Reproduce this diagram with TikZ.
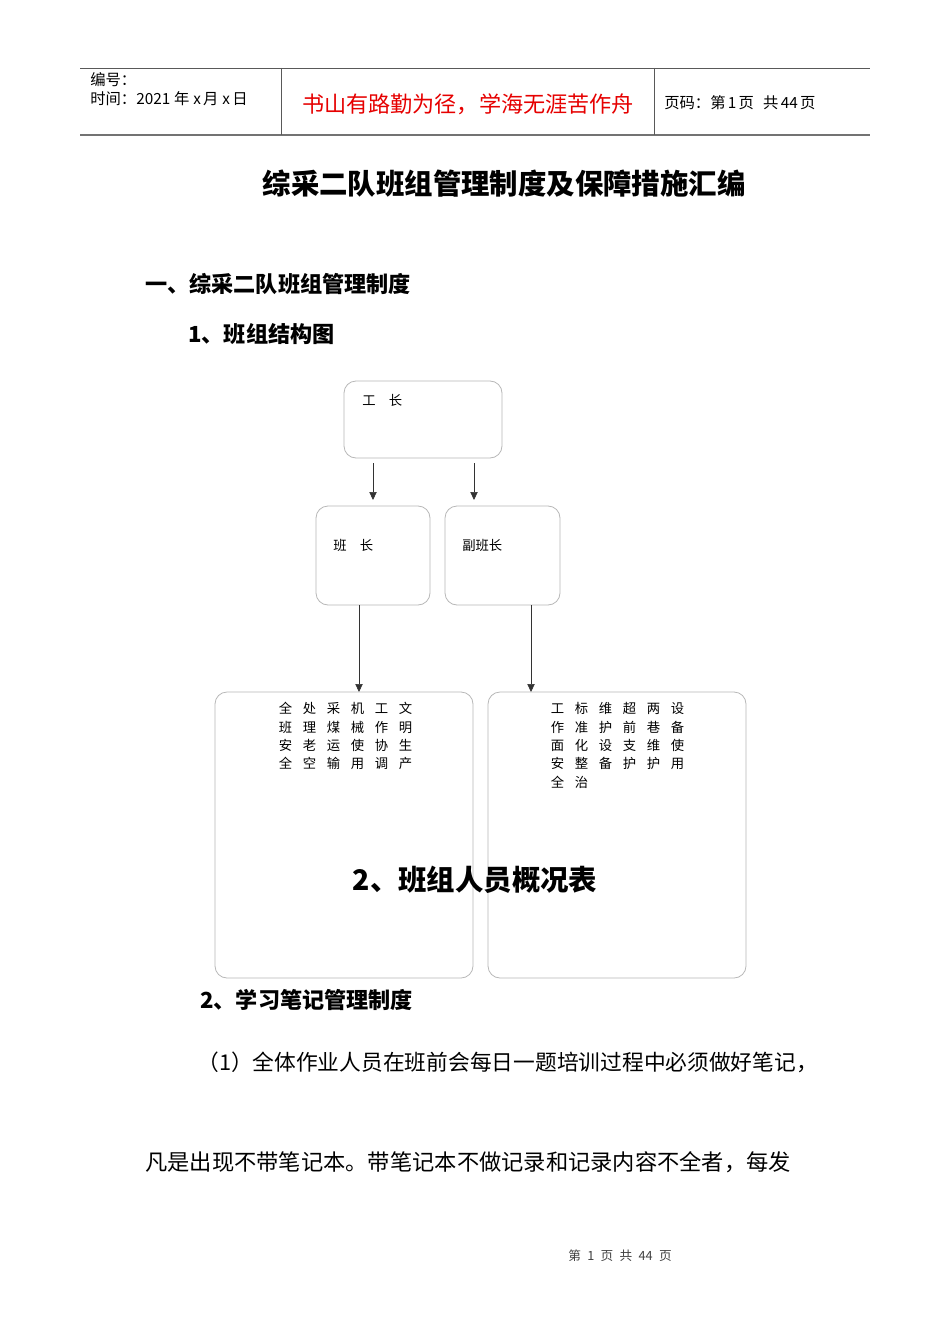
\documentclass[tikz,border=0pt]{standalone}
\usepackage{fontspec}
\setmainfont{Noto Sans CJK SC}
\usetikzlibrary{arrows.meta,calc}
\definecolor{motto}{RGB}{230,0,0}
\newcommand\gapx{\hspace{8pt}}
\begin{document}
\begin{tikzpicture}[x=0.75pt,y=-0.75pt,
  box/.style={draw=black!28,line width=0.6pt,rounded corners=9pt,inner sep=0pt,outer sep=0pt},
  lbl/.style={anchor=west,inner sep=0pt,font=\fontsize{10}{12}\selectfont},
  grid/.style={anchor=west,inner sep=0pt,font=\fontsize{10}{12}\selectfont},
  arr/.style={draw=black!80,line width=0.5pt,-{Triangle[length=6pt,width=5.5pt]}},
  hd/.style={anchor=west,inner sep=0pt,font=\fontsize{11.5}{13}\selectfont},
  head/.style={anchor=west,inner sep=0pt,font=\fontsize{16.6}{20}\selectfont\bfseries},
  body/.style={anchor=west,inner sep=0pt,font=\fontsize{16.3}{20}\selectfont},
  rule/.style={draw=black!65,line width=0.6pt}]
\fill[white] (0,0) rectangle (950,1344);
\useasboundingbox (0,0) rectangle (950,1344);
% header
\coordinate (htl) at (80,68);
\coordinate (htr) at (870,68);
\coordinate (hbl) at (80,135);
\coordinate (hbr) at (870,135);
\draw[rule] (htl) -- (htr);
\draw[draw=black!55,line width=1.2pt] (hbl) -- (hbr);
\draw[rule] (281,68) -- (281,135);
\draw[rule] (654,68) -- (654,135);
\node[hd] (bh) at (90,80) {编号：};
\node[hd] (sj) at (90,99) {时间：2021\hspace{0.25em}年\hspace{0.25em}x\hspace{0.15em}月\hspace{0.25em}x\hspace{0.15em}日};
\node[anchor=center,inner sep=0pt,text=motto,font=\fontsize{16.6}{20}\selectfont] (motto) at (468,104) {书山有路勤为径，学海无涯苦作舟};
\node[hd] (ym) at (664,103) {页码：第\hspace{0.15em}1\hspace{0.15em}页\hspace{0.6em}共\hspace{0.15em}44\hspace{0.15em}页};
% titles
\node[anchor=center,inner sep=0pt,font=\fontsize{21.3}{25}\selectfont\bfseries] (title) at (504,184) {综采二队班组管理制度及保障措施汇编};
\node[head] (h1) at (145,284) {一、综采二队班组管理制度};
\node[head] (h2) at (188,334) {1、班组结构图};
% chart boxes
\node[box,minimum width=118.5pt,minimum height=57.75pt] (gz) at (423,419.5) {};
\node[box,minimum width=85.5pt,minimum height=74.25pt] (bz) at (373,555.5) {};
\node[box,minimum width=86.25pt,minimum height=74.25pt] (fbz) at (502.5,555.5) {};
\node[box,minimum width=193.5pt,minimum height=214.5pt] (L) at (344,835) {};
\node[box,minimum width=193.5pt,minimum height=214.5pt] (R) at (617,835) {};
\node[lbl] (gzt) at (362,400) {工\hspace{1em}长};
\node[lbl] (bzt) at (333,545) {班\hspace{1em}长};
\node[lbl] (fbzt) at (462,545) {副班长};
% arrows
\draw[arr] ($(gz.south -| bz.north)+(0,5)$) -- ($(bz.north)+(0,-6)$);
\draw[arr] ($(gz.south -| fbz.north)+(-28.5,5)$) -- ($(fbz.north)+(-28.5,-6)$);
\draw[arr] ($(bz.south)+(-14,0)$) -- ($(L.north -| bz.south)+(-14,0)$);
\draw[arr] ($(fbz.south)+(28.5,0)$) -- ($(R.north -| fbz.south)+(28.5,0)$);
% left grid
\node[grid] (l1) at (278.5,708) {全\gapx 处\gapx 采\gapx 机\gapx 工\gapx 文};
\node[grid] (l2) at (278.5,727) {班\gapx 理\gapx 煤\gapx 械\gapx 作\gapx 明};
\node[grid] (l3) at (278.5,745) {安\gapx 老\gapx 运\gapx 使\gapx 协\gapx 生};
\node[grid] (l4) at (278.5,763) {全\gapx 空\gapx 输\gapx 用\gapx 调\gapx 产};
% right grid
\node[grid] (r1) at (550.5,708) {工\gapx 标\gapx 维\gapx 超\gapx 两\gapx 设};
\node[grid] (r2) at (550.5,727) {作\gapx 准\gapx 护\gapx 前\gapx 巷\gapx 备};
\node[grid] (r3) at (550.5,745) {面\gapx 化\gapx 设\gapx 支\gapx 维\gapx 使};
\node[grid] (r4) at (550.5,763) {安\gapx 整\gapx 备\gapx 护\gapx 护\gapx 用};
\node[grid] (r5) at (550.5,782) {全\gapx 治};
% overlapping heading
\node[anchor=center,inner sep=0pt,font=\fontsize{21.3}{25}\selectfont\bfseries] (h3) at (475,880) {2、班组人员概况表};
\node[head] (h4) at (200,1000) {2、学习笔记管理制度};
\node[body] (p1) at (197,1062) {（1）全体作业人员在班前会每日一题培训过程中必须做好笔记，};
\node[body,font=\fontsize{16.7}{20}\selectfont] (p2) at (145,1162) {凡是出现不带笔记本。带笔记本不做记录和记录内容不全者，每发};
% footer
\node[anchor=center,inner sep=0pt,text=black!75,font=\fontsize{9.5}{11}\selectfont] (foot) at (620,1256) {第\hspace{0.5em}1\hspace{0.5em}页\hspace{0.5em}共\hspace{0.5em}44\hspace{0.5em}页};
\end{tikzpicture}
\end{document}
